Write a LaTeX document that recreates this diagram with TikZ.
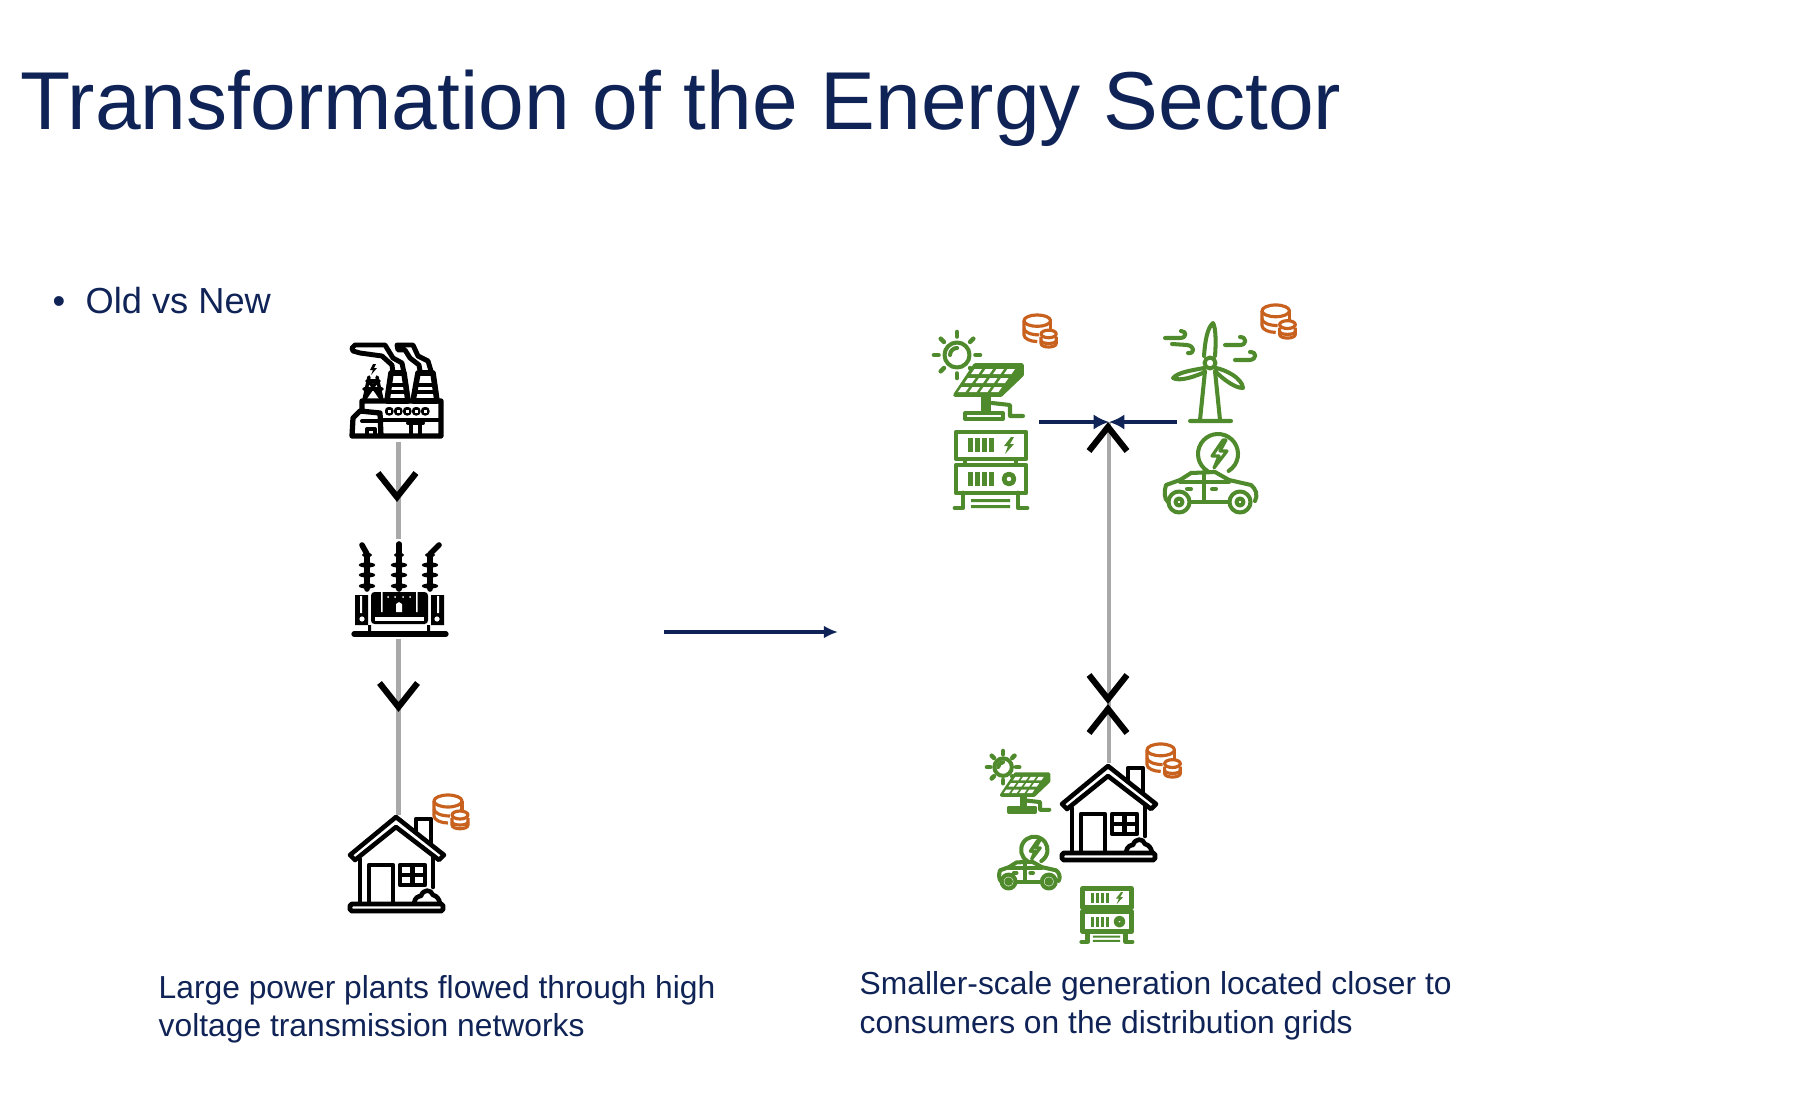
\documentclass[tikz,border=0pt]{standalone}
\usepackage{xcolor}
\usepackage{fontspec}
\usetikzlibrary{arrows.meta}
\setmainfont{Liberation Sans}

\tikzset{
  feedLine/.style={draw=lineGray, line width=1.7pt},
  flowArrow/.style={draw=colNavy, line width=1.05pt, -{Latex[length=4pt,width=3.6pt]}},
  iconLine/.style={line width=1.15pt, line join=round, line cap=round},
  % Centrale
  pics/plant/.style={code={
    \begin{scope}[iconLine]
      \draw[line width=1.4pt] (54,30) -- (52,20) -- (43,15) -- (35,2) -- (5,2) -- (2,5) -- (3,8) -- (10,10) -- (32,13) -- (42,22) -- (43,30);
      \draw[line width=1.4pt] (81,28) -- (78,18) -- (68,13) -- (63,2) -- (47,2) -- (48,7) -- (55,7) -- (60,15) -- (69,22) -- (70,28);
      \draw[line width=1.6pt] (41,30) -- (54,30) -- (58,58) -- (37,58) -- cycle;
      \draw[line width=1.6pt] (68,30) -- (83,30) -- (87,58) -- (63,58) -- cycle;
      \draw[line width=1.4pt] (39,42) -- (56,42) (38,49) -- (57,49);
      \draw[line width=1.4pt] (66,42) -- (85,42) (65,49) -- (86,49);
      \fill (23,21) -- (20,27) -- (23,27) -- (21,32) -- (27,25) -- (24,25) -- (26,21) -- cycle;
      \draw[line width=1pt] (19,34) -- (14,57) (27,34) -- (32,57) (17,38) -- (29,38) (14,46) -- (32,46) (19,38) -- (32,57) (27,38) -- (14,57);
      \draw[line width=1.5pt] (12,67) -- (12,58) -- (91,58) -- (91,93) -- (2,93) -- (3,75) -- (10,68) -- (30,70) -- (31,93);
      \draw (31,77) -- (91,77);
      \foreach \wx in {35,44,53,62,71} {
        \fill[rounded corners=1pt] (\wx,64) rectangle ++(8.5,8.5);
        \fill[white] (\wx+2.5,66.5) rectangle ++(3.5,3.5);
      }
      \draw (17,93) -- (17,86) -- (25,86) -- (25,93);
      \draw (12,78) -- (29,78);
      \draw (58,80) -- (73,80) (61,80) -- (61,93) (70,80) -- (70,93);
    \end{scope}
  }},
  % Trasformatore
  pics/transformer/.style={code={
    \begin{scope}[iconLine]
      \draw[line width=1.6pt] (15,47) -- (15,12) -- (10,3);
      \draw[line width=1.6pt] (47,47) -- (47,2);
      \draw[line width=1.6pt] (78,47) -- (78,12) -- (87,3);
      \foreach \ix in {15,47,78} {
        \fill (\ix,13) ellipse (5 and 2.2);
        \foreach \iy in {23,33,44}
          \fill (\ix,\iy) ellipse (8.2 and 2.6);
      }
      \fill[rounded corners=1pt] (19,50) rectangle (76,82);
      \fill[white] (29,50) rectangle (30.5,70) (64,50) rectangle (65.5,70);
      \fill[white] (23,75) rectangle (72,79);
      \foreach \dx in {36,43,51,58}
        \fill[white] (\dx,55) circle (1);
      \fill[white] (44,70) -- (44,62) -- (47,60) -- (50,62) -- (50,70) -- cycle;
      \fill (3,53) rectangle (16,83) (79,53) rectangle (92,83);
      \fill[white] (8,54) rectangle (10,71) (85,54) rectangle (87,71);
      \fill[white] (10,77) circle (2.6) (85,77) circle (2.6);
      \draw[line width=1.5pt] (2,92) -- (94,92);
      \fill (16,83) rectangle (19,92) (75,83) rectangle (78,92);
    \end{scope}
  }},
  % Casa
  pics/house/.style={code={
    \begin{scope}[iconLine]
      \draw[line width=1.3pt] (67,18) -- (67,2) -- (82,2) -- (82,32);
      \draw[line width=1.3pt] (84,32) -- (84,70);
      \draw[line width=1.3pt] (11,42) -- (11,87);
      \draw[line width=1.3pt, fill=white] (47,0) -- (1,38) -- (6,43) -- (47,10) -- (90,43) -- (95,38) -- cycle;
      \draw[line width=1.3pt] (20,87) -- (20,48) -- (44,48) -- (44,87);
      \draw[line width=1.3pt] (51,48) rectangle (76,68);
      \draw (63.5,48) -- (63.5,68) (51,58) -- (76,58);
      \draw[line width=1.3pt, fill=white] (65,86) .. controls (66,80) and (70,79) .. (72,79) .. controls (74,72) and (82,72) .. (84,78) .. controls (88,79) and (90,82) .. (91,86);
      \draw[line width=1.4pt, fill=white, rounded corners=0.5pt] (1,87) rectangle (94,94);
    \end{scope}
  }},
  % Accumulo
  pics/storage/.style={code={
    \begin{scope}[draw=colOrange, line width=0.9pt, line join=round]
      \draw (15,7) ellipse (14 and 6);
      \draw (1,7) -- (1,22) .. controls (1,26) and (8,29) .. (15,29);
      \draw (29,7) -- (29,17);
      \draw (1,15) .. controls (1,19) and (8,22) .. (17,22);
      \draw[fill=white] (19,24) -- (19,31) .. controls (19,36) and (35,36) .. (35,31) -- (35,24);
      \draw[fill=white] (27,21) ellipse (8 and 4);
      \draw (19,28) .. controls (19,32) and (35,32) .. (35,28);
    \end{scope}
  }},
  % Pannello solare
  pics/solar/.style={code={
    \begin{scope}[draw=colGreen, iconLine]
      \draw (23,23) circle (12.5);
      \draw (16,23) arc[start angle=180, end angle=270, radius=7];
      \foreach \ra in {0,45,...,315}
        \draw[line width=1.3pt] (23,23) ++(\ra:18.5) -- ++(\ra:4.5);
      \fill[colGreen, draw=colGreen, line width=1pt] (21,63) -- (41,33) -- (88,33) -- (88,43) -- (67,63) -- cycle;
      \foreach \ci in {0,1,2,3}
        \foreach \cj in {0,1,2}
          \fill[white] ({24+\ci*11+\cj*6.5},{60-\cj*9}) -- ++(7.5,0) -- ++(3.5,-5) -- ++(-7.5,0) -- cycle;
      \fill[colGreen] (47,63) rectangle (57,81);
      \draw (31,81) rectangle (69,87);
      \draw (58,71) -- (76,73) -- (76,84) -- (89,84);
    \end{scope}
  }},
  % Batterie
  pics/battery/.style={code={
    \begin{scope}[draw=colGreen, iconLine, fill=colGreen]
      \draw[line width=1.35pt] (2,1) rectangle (72,28);
      \draw[line width=1.35pt] (2,34) rectangle (72,62);
      \draw (11,28) -- (11,34) (62,28) -- (62,34);
      \foreach \bx in {14,21,28,35} {
        \fill (\bx,7) rectangle ++(4.5,14);
        \fill (\bx,41) rectangle ++(4.5,14);
      }
      \fill (57,6) -- (50,15) -- (54,15) -- (51,23) -- (60,13) -- (56,13) -- (60,6) -- cycle;
      \draw[fill=none, line width=1.35pt] (55,48) circle (5);
      \draw[line width=1.35pt] (1,77) -- (9,77) -- (9,62) (73,77) -- (64,77) -- (64,62);
      \fill (17,68) rectangle (56,71) (17,74) rectangle (56,77);
    \end{scope}
  }},
  % Pala eolica
  pics/turbine/.style={code={
    \begin{scope}[draw=colGreen, iconLine]
      \draw (41,49) -- (36,98) (51,49) -- (56,98) (26,99) -- (67,99);
      \draw (40,34) .. controls (41,20) and (43,6) .. (49,1) .. controls (52,6) and (52,22) .. (51,34);
      \draw (52,46) .. controls (62,48) and (78,56) .. (79,66) .. controls (70,66) and (58,56) .. (52,50);
      \draw (40,46) .. controls (30,48) and (14,50) .. (9,56) .. controls (16,60) and (32,54) .. (41,50);
      \draw (46,41) circle (5.5);
      \draw (1,16) -- (16,16) .. controls (23,16) and (23,9) .. (17,9);
      \draw (8,22) -- (23,23) .. controls (31,24) and (31,32) .. (24,31);
      \draw (61,23) -- (76,23) .. controls (83,23) and (83,15) .. (76,15);
      \draw (71,38) -- (86,38) .. controls (93,37) and (93,30) .. (86,30);
    \end{scope}
  }},
  % Auto elettrica
  pics/car/.style={code={
    \begin{scope}[draw=colGreen, iconLine]
      \draw (55,21) ++(122:20) arc[start angle=122, end angle=418, radius=20];
      \draw[line width=0.9pt] (60,7) -- (49,23) -- (56,23) -- (51,35) -- (64,18) -- (57,18) -- (63,7) -- cycle;
      \draw (5,69) .. controls (1,66) and (1,58) .. (3,52) -- (17,47) -- (28,40) -- (52,39) -- (66,47) -- (88,52) .. controls (93,56) and (95,62) .. (92,68);
      \draw (28,69) -- (66,69);
      \draw (41,39) -- (41,69) (17,49) -- (66,49);
      \draw (24,56) -- (28,56) (49,56) -- (53,56);
      \draw[fill=white] (16,69) circle (10.5);
      \draw[fill=white] (77,69) circle (10.5);
      \draw (16,69) circle (3.5) (77,69) circle (3.5);
    \end{scope}
  }},
  % Freccia a V
  pics/chevron/.style={code={
    \draw[black, line width=1.75pt] (-19,-24) -- (0,0) -- (19,-24);
  }}
}

\begin{document}
\begin{tikzpicture}[x=0.01cm, y=-0.01cm]

% Colori
\definecolor{colNavy}{HTML}{0F2356}
\definecolor{colGreen}{HTML}{4F8A2C}
\definecolor{colOrange}{HTML}{C8601E}
\definecolor{lineGray}{HTML}{A9A9A9}

\useasboundingbox (0,0) rectangle (1800,1094);

% Titolo
\node[anchor=base west, inner sep=0pt, text=colNavy, font=\fontsize{23.35}{28}\selectfont] (title) at (20,130) {Transformation of the Energy Sector};
\node[anchor=base west, inner sep=0pt, text=colNavy, font=\fontsize{10.3}{13}\selectfont] (bullet) at (52,314) {•};
\node[anchor=base west, inner sep=0pt, text=colNavy, font=\fontsize{10.3}{13}\selectfont] (oldnew) at (85,314) {Old vs New};

% Colonna sinistra
\pic at (350,343) {plant};
\pic at (352,542) {transformer};
\pic at (349,817) {house};
\pic at (433,794) {storage};

\coordinate (plantS) at (398.5,442);
\coordinate (transN) at (398.5,539);
\coordinate (transS) at (398.5,639);
\coordinate (houseN) at (398.5,815);

\draw[feedLine] (plantS) -- (transN);
\draw[feedLine] (transS) -- (houseN);
\pic at (397,497) {chevron};
\pic at (398.5,707) {chevron};

% Passaggio dal vecchio al nuovo
\coordinate (oldEnd) at (664,632);
\coordinate (newEnd) at (838,632);
\draw[flowArrow] (oldEnd) -- (newEnd);

% Colonna destra, in alto
\pic at (934,332) {solar};
\pic at (954,431) {battery};
\pic[scale=0.95] at (1023,314) {storage};
\pic at (1164,322) {turbine};
\pic at (1163,433) {car};
\pic[scale=0.98] at (1261,304) {storage};

% Colonna destra, in basso
\pic at (1061,766) {house};
\pic[scale=0.98] at (1146,743) {storage};
\pic[scale=0.7, line width=0.85pt] at (987,751) {solar};
\pic[scale=0.66, line width=0.85pt] at (998,836) {car};
\pic[scale=0.7, line width=0.85pt] at (1081,888) {battery};

\coordinate (hubN) at (1109,422);
\coordinate (hubS) at (1109,763);
\coordinate (solarE) at (1039,422);
\coordinate (windW) at (1177,422);

\draw[feedLine, line width=1.25pt] (hubN) -- (hubS);
\pic[rotate=180] at (1108,427) {chevron};
\pic at (1108,699) {chevron};
\pic[rotate=180] at (1108,709) {chevron};
\draw[flowArrow, -{Latex[length=4.4pt,width=4.4pt]}] (solarE) -- (hubN);
\draw[flowArrow, -{Latex[length=4.4pt,width=4.4pt]}] (windW) -- (hubN);

% Didascalie
\node[anchor=base west, inner sep=0pt, text=colNavy, font=\fontsize{9.04}{10.8}\selectfont] (leftA) at (158,998) {Large power plants flowed through high};
\node[anchor=base west, inner sep=0pt, text=colNavy, font=\fontsize{9.04}{10.8}\selectfont] (leftB) at (158,1036) {voltage transmission networks};
\node[anchor=base west, inner sep=0pt, text=colNavy, font=\fontsize{9.04}{10.8}\selectfont] (rightA) at (859,994) {Smaller-scale generation located closer to};
\node[anchor=base west, inner sep=0pt, text=colNavy, font=\fontsize{9.04}{10.8}\selectfont] (rightB) at (859,1033) {consumers on the distribution grids};

\end{tikzpicture}
\end{document}
